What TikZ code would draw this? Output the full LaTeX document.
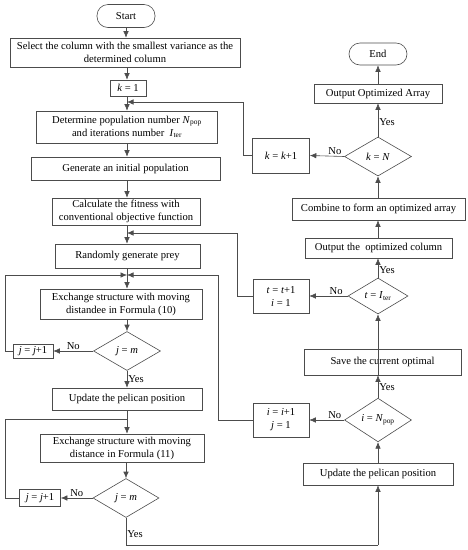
\documentclass[tikz,border=0pt]{standalone}
\usepackage{fontspec}
\setmainfont{Liberation Serif}
\usetikzlibrary{arrows.meta,shapes.geometric,calc}
\begin{document}
\begin{tikzpicture}[x=1pt,y=-1pt,
  font=\fontsize{10.6}{13}\selectfont,
  line/.style={draw=black!70, line width=0.6pt},
  arr/.style={line, -{Latex[length=6.5pt,width=5.5pt]}},
  box/.style={draw=black!70, line width=0.6pt, inner sep=1pt, align=center},
  term/.style={box, rounded corners=11pt},
  dec/.style={draw=black!70, line width=0.6pt, diamond, inner sep=0pt},
  lab/.style={inner sep=1pt}
]
\useasboundingbox (0,0) rectangle (467,550);
% left column
\node[term, minimum width=58, minimum height=23] (start) at (126,16) {Start};
\node[box, minimum width=230, minimum height=29] (sel) at (125,52.5) {Select the column with the smallest variance as the\\determined column};
\node[box, minimum width=36, minimum height=16] (k1) at (128,88) {\textit{k} = 1};
\node[box, minimum width=181, minimum height=32] (det) at (127,127) {Determine population number \textit{N}\textsubscript{pop}\\and iterations number\ \ \textit{I}\textsubscript{ter}};
\node[box, minimum width=189, minimum height=23] (gen) at (125.5,168.5) {Generate an initial population};
\node[box, minimum width=148, minimum height=27] (calc) at (126,211.5) {Calculate the fitness with\\conventional objective function};
\node[box, minimum width=145, minimum height=24] (prey) at (127.5,256) {Randomly generate prey};
\node[box, minimum width=162, minimum height=30] (ex1) at (121,304) {Exchange structure with moving\\distandee in Formula (10)};
\node[dec, minimum width=67, minimum height=39] (d1) at (127,351) {\textit{j} = \textit{m}};
\node[box, minimum width=40, minimum height=14] (jj1) at (33,351) {\textit{j} = \textit{j}+1};
\node[box, minimum width=150, minimum height=22] (upd1) at (127,399) {Update the pelican position};
\node[box, minimum width=164, minimum height=28] (ex2) at (122,448) {Exchange structure with moving\\distance in Formula (11)};
\node[dec, minimum width=66, minimum height=39] (d2) at (126,498) {\textit{j} = \textit{m}};
\node[box, minimum width=41, minimum height=17] (jj2) at (40,498) {\textit{j} = \textit{j}+1};
% right column
\node[term, minimum width=58, minimum height=22] (end) at (378,54) {End};
\node[box, minimum width=128, minimum height=19] (outarr) at (378,93.5) {Output Optimized Array};
\node[dec, minimum width=67, minimum height=39] (dk) at (378,156.5) {\textit{k} = \textit{N}};
\node[box, minimum width=57, minimum height=35] (kk) at (281,155.5) {\textit{k} = \textit{k}+1};
\node[box, minimum width=173, minimum height=22] (comb) at (378.5,209) {Combine to form an optimized array};
\node[box, minimum width=147, minimum height=20] (outcol) at (378.5,248) {Output the\ \ optimized column};
\node[dec, minimum width=60, minimum height=36] (dt) at (378,296) {\textit{t} = \textit{I}\textsubscript{ter}};
\node[box, minimum width=56, minimum height=34] (tt) at (281,296) {\textit{t} = \textit{t}+1\\\textit{i} = 1};
\node[box, minimum width=157, minimum height=26] (save) at (382.5,362) {Save the current optimal};
\node[dec, minimum width=67, minimum height=39] (di) at (378,420) {\textit{i} = \textit{N}\textsubscript{pop}};
\node[box, minimum width=56, minimum height=34] (ii) at (281,420) {\textit{i} = \textit{i}+1\\\textit{j} = 1};
\node[box, minimum width=150, minimum height=22] (upd2) at (378,474) {Update the pelican position};
% junction coordinates
\coordinate (m0) at (127,102);
\coordinate (m1) at (127,233);
\coordinate (m2) at (127,275);
\coordinate (m3) at (127,419);
\coordinate (bot) at (126,545);
% left column connectors
\draw[arr] (start) -- (start |- sel.north);
\draw[arr] (sel.south -| m0) -- (m0 |- k1.north);
\draw[arr] (k1.south -| m0) -- (m0 |- det.north);
\draw[arr] (det.south -| m0) -- (m0 |- gen.north);
\draw[arr] (gen.south -| m0) -- (m0 |- calc.north);
\draw[arr] (calc.south -| m0) -- (m0 |- prey.north);
\draw[arr] (prey.south -| m0) -- (m0 |- ex1.north);
\draw[arr] (ex1.south -| d1.north) -- (d1.north);
\draw[arr] (d1.west) -- (jj1.east) node[lab, pos=0.5, above] {No};
\draw[arr] (d1.south) -- (d1.south |- upd1.north) node[lab, pos=0.5, right] {Yes};
\draw[arr] (upd1.south -| m3) -- (m3 |- ex2.north);
\draw[arr] (ex2.south -| d2.north) -- (d2.north);
\draw[arr] (d2.west) -- (jj2.east) node[lab, pos=0.5, above] {No};
% loops on the left
\draw[arr] (jj1.west) -- (5,351) |- (m2);
\draw[line] (jj2.west) -- (5,498) |- (m3);
\draw[line] (d2.south) -- (bot) node[lab, pos=0.6, right] {Yes} -- (bot -| upd2) coordinate (br);
\draw[arr] (br) -- (upd2.south);
% right column connectors
\draw[arr] (upd2.north) -- (di.south);
\draw[arr] (di.north) -- (di.north |- save.south) node[lab, pos=0.5, right] {Yes};
\draw[arr] (di.west) -- (ii.east) node[lab, pos=0.27, above] {No};
\draw[arr] (save.south -| dt) -- (dt.south);
\draw[arr] (dt.west) -- (tt.east) node[lab, pos=0.3, above] {No};
\draw[arr] (dt.north) -- (dt.north |- outcol.south) node[lab, pos=0.4, right] {Yes};
\draw[arr] (outcol.north -| dt) -- (dt |- comb.south);
\draw[arr] (comb.north -| dk) -- (dk.south);
\draw[arr] (dk.west) -- (kk.east) node[lab, pos=0.27, above] {No};
\draw[arr] (dk.north) -- (outarr.south) node[lab, pos=0.45, right] {Yes};
\draw[arr] (outarr.north) -- (end.south);
% loops on the right
\draw[arr] (kk.west) -- (243,155.5) |- (m0);
\draw[arr] (tt.west) -- (237,296) |- (m1);
\draw[arr] (ii.west) -- (218,420) |- (m2);
\end{tikzpicture}
\end{document}
